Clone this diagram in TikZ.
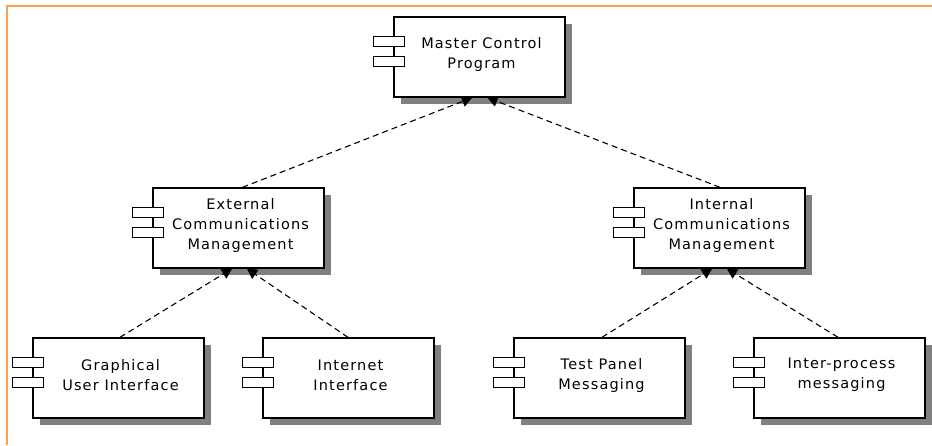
\documentclass[tikz,border=0pt]{standalone}
\usepackage{fontspec}
\setmainfont{DejaVu Sans}[LetterSpace=8]
\usetikzlibrary{calc,arrows.meta,shadows}
\definecolor{frameorange}{RGB}{250,160,80}
\definecolor{shadowgray}{RGB}{128,128,128}
\begin{document}
\begin{tikzpicture}[x=1pt,y=-1pt,
  comp/.style={draw=black, line width=1.4pt, fill=white, minimum width=171pt, minimum height=80pt, inner sep=0pt,
    drop shadow={shadow xshift=7pt, shadow yshift=-7pt, fill=shadowgray, opacity=1}},
  tab/.style={draw=black, line width=1.2pt, fill=white},
  ctext/.style={align=center, inner sep=0pt, font=\fontsize{14.5}{20}\selectfont},
  dep/.style={dashed, dash pattern=on 6pt off 4pt, line width=1.1pt,
    -{Triangle[length=10pt,width=11pt,line width=0.5pt,sep=0pt]}}
]
\useasboundingbox (0,0) rectangle (932,445);
\fill[white] (0,0) rectangle (932,445);
\draw[frameorange, line width=2pt] (7,445) -- (7,6) -- (932,6);

% boxes (centers)
\node[comp] (mcp) at (479.5,57) {};
\node[comp] (ext) at (238.5,228) {};
\node[comp] (int) at (719.5,228) {};
\node[comp] (gui) at (118.5,378) {};
\node[comp] (inet) at (348.5,378) {};
\node[comp] (test) at (599.5,378) {};
\node[comp] (ipc) at (839.5,378) {};

% component tabs
\foreach \b in {mcp,ext,int,gui,inet,test,ipc}{
  \draw[tab] ($(\b.north west)+(-20,20)$) rectangle ++(31,10);
  \draw[tab] ($(\b.north west)+(-20,40)$) rectangle ++(31,10);
}

% labels
\node[ctext] (tmcp) at ($(mcp.center)+(2,-3)$) {Master Control\\Program};
\node[ctext] (text) at ($(ext.center)+(2,-3)$) {External\\Communications\\Management};
\node[ctext] (tint) at ($(int.center)+(2,-3)$) {Internal\\Communications\\Management};
\node[ctext] (tgui) at ($(gui.center)+(2,-3)$) {Graphical\\User Interface};
\node[ctext] (tinet) at ($(inet.center)+(2,-3)$) {Internet\\Interface};
\node[ctext] (ttest) at ($(test.center)+(2,-3)$) {Test Panel\\Messaging};
\node[ctext] (tipc) at ($(ipc.center)+(2,-3)$) {Inter-process\\messaging};

% dependencies
\draw[dep] ($(ext.north)+(4,0)$) -- ($(mcp.south)+(-7.5,0)$);
\draw[dep] ($(int.north)+(0.5,0)$) -- ($(mcp.south)+(8,0)$);
\draw[dep] ($(gui.north)+(1.5,0)$) -- ($(ext.south)+(-6.5,0)$);
\draw[dep] ($(inet.north)+(-0.5,0)$) -- ($(ext.south)+(8.5,0)$);
\draw[dep] ($(test.north)+(2.5,0)$) -- ($(int.south)+(-7.5,0)$);
\draw[dep] ($(ipc.north)+(-1.5,0)$) -- ($(int.south)+(7.5,0)$);
\end{tikzpicture}
\end{document}
